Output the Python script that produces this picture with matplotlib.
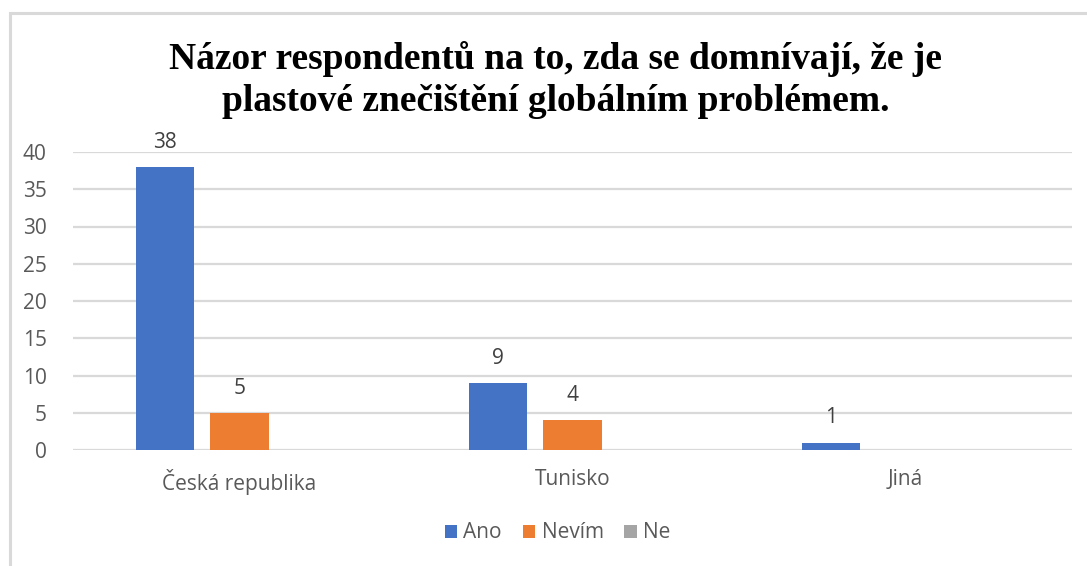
"""Chart: opinion of respondents on plastic pollution as a global problem."""
import numpy as np
import matplotlib.pyplot as plt
from matplotlib.patches import Rectangle

categories = ["Česká republika", "Tunisko", "Jiná"]
series_names = ["Ano", "Nevím", "Ne"]
ano = [38, 9, 1]
nevim = [5, 4, 0]
ne = [0, 0, 0]
yticks = [0, 5, 10, 15, 20, 25, 30, 35, 40]
title = "Názor respondentů na to, zda se domnívají, že je\nplastové znečištění globálním problémem."

colors = ["#4472C4", "#ED7D31", "#A5A5A5"]
text_col = "#595959"
grid_col = "#D9D9D9"
sans = ["Open Sans", "DejaVu Sans"]
fs = 15

W, H = 1087, 566
fig = plt.figure(figsize=(W / 100, H / 100), dpi=100)

# chart border (light gray, running off the right / bottom edges)
fig.patches.append(Rectangle((9.5 / W, -0.1), 1.2, 1 - 12.5 / H + 0.1,
                             transform=fig.transFigure, fill=False,
                             edgecolor="#D9D9D9", linewidth=2.2))

ax = fig.add_axes([73 / W, (H - 450) / H, (1072 - 73) / W, 298 / H])

x = np.arange(len(categories))
bw, off = 0.175, 0.223
for i, (name, vals) in enumerate(zip(series_names, [ano, nevim, ne])):
    pos = x + (i - 1) * off
    ax.bar(pos, vals, width=bw, color=colors[i], label=name, zorder=3)
    for p, v in zip(pos, vals):
        if v:
            ax.text(p, v + 1.9, str(v), ha="center", va="bottom", fontsize=fs,
                    color="#404040", family=sans, clip_on=False)

ax.set_xlim(-0.5, len(categories) - 0.5)
ax.set_ylim(0, 40)
ax.set_yticks(yticks)
ax.set_xticks(x)
ax.set_xticklabels(categories)
ax.grid(axis="y", color=grid_col, linewidth=1.6, zorder=0)
ax.set_axisbelow(True)
for s in ax.spines.values():
    s.set_visible(False)
ax.tick_params(length=0, labelsize=fs, colors=text_col)
ax.tick_params(axis="x", pad=14)
ax.tick_params(axis="y", pad=19)
for lab in ax.get_xticklabels() + ax.get_yticklabels():
    lab.set_family(sans)

fig.text(0.511, 1 - 80 / H, title, ha="center", va="center", fontsize=27,
         fontweight="bold", family=["Liberation Serif", "DejaVu Serif"],
         linespacing=1.27)

leg = fig.legend(loc="center", bbox_to_anchor=(0.513, 1 - 533 / H), ncol=3,
                 frameon=False, handlelength=0.6, handleheight=0.6,
                 handletextpad=0.3, columnspacing=1.0,
                 prop={"family": sans, "size": fs})
for t in leg.get_texts():
    t.set_color(text_col)

fig.savefig("out.png", dpi=100)
